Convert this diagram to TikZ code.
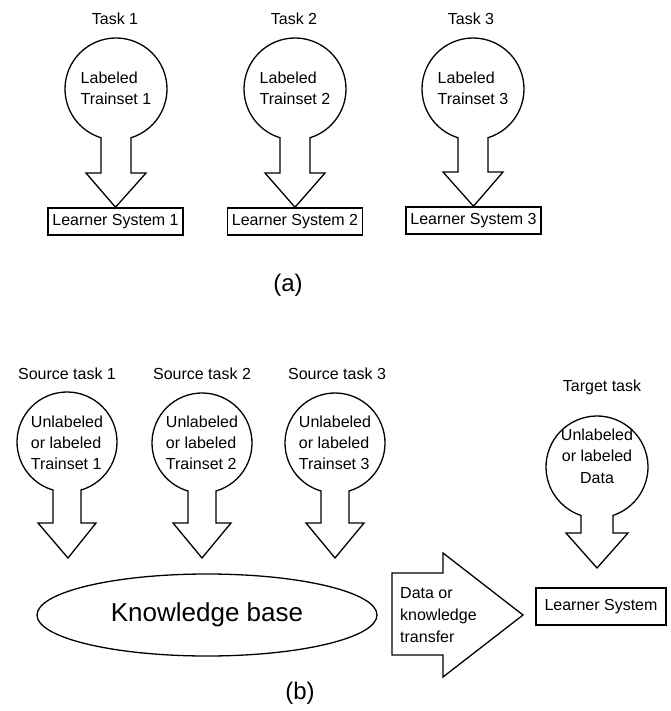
\documentclass[tikz,border=0pt]{standalone}
\usepackage{fontspec}
\setmainfont{Liberation Sans}
\usetikzlibrary{shapes.geometric}
\tikzset{
  outl/.style={draw=black, line width=1.3pt, line join=miter},
  lbl/.style={font=\fontsize{16}{20}\selectfont, inner sep=0pt},
  ctext/.style={font=\fontsize{16}{21}\selectfont, align=left, inner sep=0pt},
  ctextc/.style={font=\fontsize{16}{21.5}\selectfont, align=center, inner sep=0pt},
  lbox/.style={draw=black, line width=1.5pt, font=\fontsize{16}{20}\selectfont, minimum height=27pt, inner sep=0pt},
  capt/.style={font=\fontsize{24}{28}\selectfont, inner sep=0pt},
}
% cx cy r stemhalf heady headhalf tip
\newcommand\balloon[7]{%
  \draw[outl] ({#1+#4},{#2+sqrt(#3*#3-#4*#4)})
    arc[start angle={acos(#4/#3)}, end angle={-180-acos(#4/#3)}, radius=#3]
    -- ({#1-#4},#5) -- ({#1-#6},#5) -- #7 -- ({#1+#6},#5) -- ({#1+#4},#5) -- cycle;}
\begin{document}
\begin{tikzpicture}[x=1pt,y=-1pt]
\useasboundingbox[fill=white] (0,0) rectangle (670,711);

% ---------- (a) ----------
\node[lbl] (t1) at (115,19) {Task 1};
\node[lbl] (t2) at (294,19) {Task 2};
\node[lbl] (t3) at (471,19) {Task 3};

\node[lbox, minimum width=135pt] (l1) at (115.5,221.5) {Learner System 1};
\node[lbox, minimum width=135pt] (l2) at (295,221.5) {Learner System 2};
\node[lbox, minimum width=135pt] (l3) at (473.5,220.5) {Learner System 3};

\balloon{116}{89}{51}{15}{173}{30}{(l1.north)}
\balloon{295}{89}{51}{15}{173}{30}{(l2.north)}
\balloon{473}{89}{51}{15}{172}{30}{(l3.north)}

\node[ctext] (c1) at (116,88) {Labeled\\Trainset 1};
\node[ctext] (c2) at (295,88) {Labeled\\Trainset 2};
\node[ctext] (c3) at (473,88) {Labeled\\Trainset 3};

\node[capt] (ca) at (288,285) {(a)};

% ---------- (b) ----------
\node[lbl] (s1) at (67,374) {Source task 1};
\node[lbl] (s2) at (202,374) {Source task 2};
\node[lbl] (s3) at (337,374) {Source task 3};
\node[lbl] (tt) at (602,387) {Target task};

\coordinate (k1) at (68,558);
\coordinate (k2) at (202,558);
\coordinate (k3) at (335,558);
\coordinate (k4) at (597,568);

\balloon{67}{442}{50}{14}{523}{29}{(k1)}
\balloon{202}{443}{50}{14}{523}{29}{(k2)}
\balloon{335}{443}{50}{14}{523}{29}{(k3)}
\balloon{597}{467}{51}{16}{533}{31}{(k4)}

\node[ctext] (u1) at (67,443) {Unlabeled\\or labeled\\Trainset 1};
\node[ctext] (u2) at (202,443) {Unlabeled\\or labeled\\Trainset 2};
\node[ctext] (u3) at (335,443) {Unlabeled\\or labeled\\Trainset 3};
\node[ctextc] (u4) at (597,456) {Unlabeled\\or labeled\\Data};

\node[draw=black, line width=1.3pt, ellipse, minimum width=340pt, minimum height=82pt, inner sep=0pt,
      font=\fontsize{26}{30}\selectfont] (kb) at (207,615) {Knowledge base};

\draw[outl] (392,573) -- (443,573) -- (443,553) -- (523,615) -- (443,677) -- (443,655) -- (392,655) -- cycle;
\node[font=\fontsize{16}{22}\selectfont, align=left, inner sep=0pt, anchor=west] (tr) at (400,615) {Data or\\knowledge\\transfer};

\node[lbox, minimum width=130pt, minimum height=37pt] (ls) at (601,606.5) {Learner System};

\node[capt] (cb) at (300,693) {(b)};
\end{tikzpicture}
\end{document}
